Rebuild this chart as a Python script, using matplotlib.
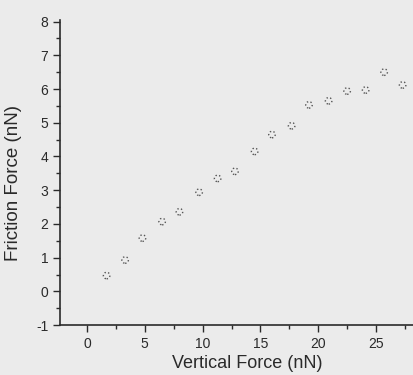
import matplotlib
matplotlib.use("Agg")
import matplotlib.pyplot as plt
from matplotlib.ticker import MultipleLocator

# Werte
vertical_force = [1.7, 3.3, 4.8, 6.5, 8.0, 9.7, 11.3, 12.8, 14.5, 16.0,
                  17.7, 19.2, 20.9, 22.5, 24.1, 25.7, 27.3]
friction_force = [0.47, 0.93, 1.58, 2.07, 2.36, 2.94, 3.35, 3.56, 4.15, 4.65,
                  4.91, 5.53, 5.65, 5.94, 5.97, 6.50, 6.12]
x_ticks = [0, 5, 10, 15, 20, 25]

plt.rcParams['font.family'] = ['Liberation Sans', 'DejaVu Sans']
plt.rcParams['axes.unicode_minus'] = False

bg = '#ebebeb'
ink = '#2a2a2a'

fig = plt.figure(figsize=(4.14, 3.75), dpi=100, facecolor=bg)
# Achse reicht rechts ueber den Bildrand hinaus (wie im Scan abgeschnitten)
ax = fig.add_axes([0.145, 0.133, 0.903, 0.814], facecolor=bg)

ax.scatter(vertical_force, friction_force, s=22, facecolors='none',
           edgecolors='#555555', linewidths=1.0, linestyle=':')

ax.set_xlim(-2.33, 30)
ax.set_ylim(-1, 8.05)
ax.set_xticks(x_ticks)
ax.xaxis.set_minor_locator(MultipleLocator(2.5))
ax.yaxis.set_major_locator(MultipleLocator(1))
ax.yaxis.set_minor_locator(MultipleLocator(0.5))

for side in ['top', 'right']:
    ax.spines[side].set_visible(False)
for side in ['left', 'bottom']:
    ax.spines[side].set_color(ink)
    ax.spines[side].set_linewidth(1.2)
    ax.spines[side].set_linestyle((0, (2, 1)))

ax.tick_params(which='major', length=5, width=1, color=ink, labelsize=10,
               labelcolor=ink, direction='out')
ax.tick_params(which='minor', length=3, width=1, color=ink, direction='out')

ax.set_xlabel('Vertical Force (nN)', fontsize=13, color=ink, labelpad=3)
ax.set_ylabel('Friction Force (nN)', fontsize=13.5, color=ink)
ax.yaxis.set_label_coords(-0.102, 0.466)

fig.savefig('out.png', dpi=100, facecolor=bg)
